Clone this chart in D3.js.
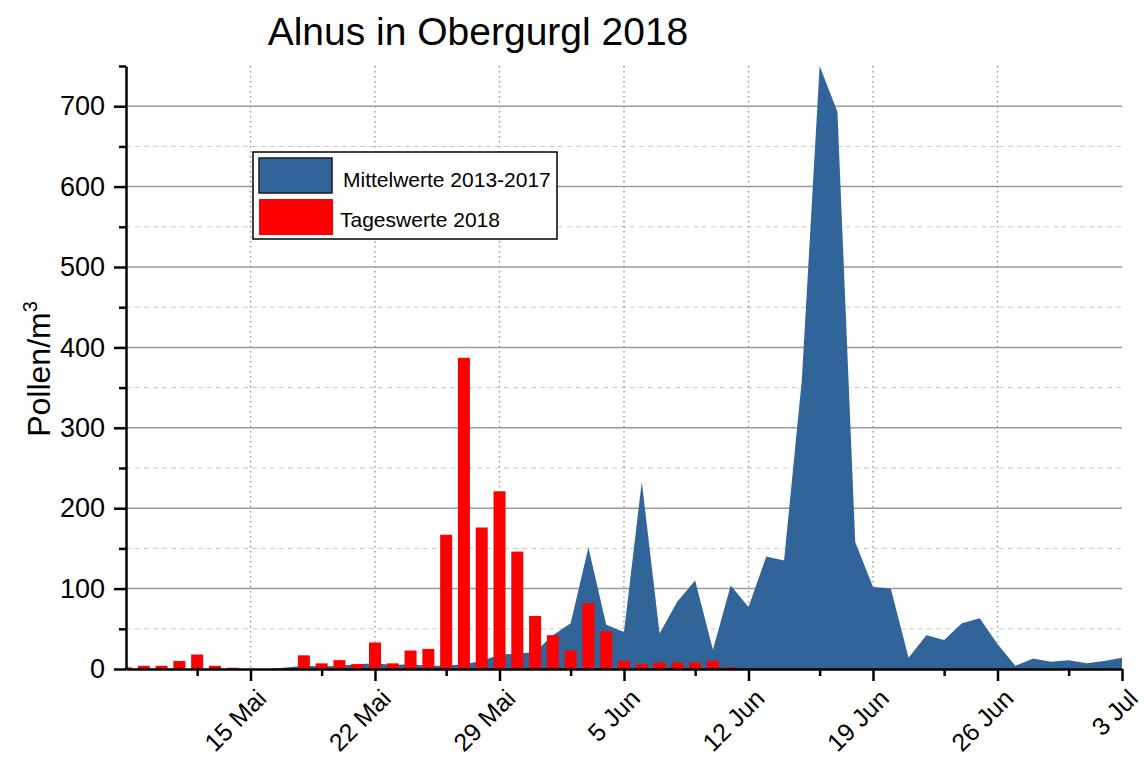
<!DOCTYPE html>
<html>
<head>
<meta charset="utf-8">
<script src="https://cdn.jsdelivr.net/npm/d3@7.9.0/dist/d3.min.js"></script>
<style>
  body { margin: 0; background: #fff; }
  svg { font-family: Arial, "Liberation Sans", sans-serif; }
</style>
</head>
<body>
<svg id="chart" width="1144" height="758"></svg>
<script>
// daily dates, 8 May - 3 Jul 2018
const days = [
  "2018-05-08","2018-05-09","2018-05-10","2018-05-11","2018-05-12","2018-05-13","2018-05-14",
  "2018-05-15","2018-05-16","2018-05-17","2018-05-18","2018-05-19","2018-05-20","2018-05-21",
  "2018-05-22","2018-05-23","2018-05-24","2018-05-25","2018-05-26","2018-05-27","2018-05-28",
  "2018-05-29","2018-05-30","2018-05-31","2018-06-01","2018-06-02","2018-06-03","2018-06-04",
  "2018-06-05","2018-06-06","2018-06-07","2018-06-08","2018-06-09","2018-06-10","2018-06-11",
  "2018-06-12","2018-06-13","2018-06-14","2018-06-15","2018-06-16","2018-06-17","2018-06-18",
  "2018-06-19","2018-06-20","2018-06-21","2018-06-22","2018-06-23","2018-06-24","2018-06-25",
  "2018-06-26","2018-06-27","2018-06-28","2018-06-29","2018-06-30","2018-07-01","2018-07-02",
  "2018-07-03"
];

// Mittelwerte 2013-2017 (area)
const meanValues = [
  0, 0, 0, 0, 0, 0, 0,
  0, 0, 2, 4, 3, 4, 6,
  7, 5, 6, 4, 4, 6, 10,
  18, 19, 21, 42, 57, 151, 55,
  46, 233, 44, 84, 110, 24, 104,
  77, 140, 135, 360, 750, 693, 158,
  102, 100, 14, 42, 36, 57, 63,
  31, 4, 13, 9, 11, 7, 10,
  14
];

// Tageswerte 2018 (bars), 8 May - 11 Jun
const dailyValues = [
  2, 4, 4, 10, 18, 4, 1.5,
  0, 0, 0, 17, 7, 11, 6,
  33, 7, 23, 25, 167, 387, 176,
  221, 146, 66, 42, 23, 82, 47,
  10, 6, 8, 8, 8, 10, 2
];

const tickDays = ["2018-05-15","2018-05-22","2018-05-29","2018-06-05","2018-06-12","2018-06-19","2018-06-26","2018-07-03"];
const tickLabels = ["15 Mai","22 Mai","29 Mai","5 Jun","12 Jun","19 Jun","26 Jun","3 Jul"];
const minorTickDays = ["2018-05-12","2018-05-19","2018-05-26","2018-06-02","2018-06-09","2018-06-16","2018-06-23","2018-06-30"];
const yMajorTicks = [0, 100, 200, 300, 400, 500, 600, 700];
const yMinorTicks = [50, 150, 250, 350, 450, 550, 650, 750];
const seriesNames = ["Mittelwerte 2013-2017", "Tageswerte 2018"];

const blue = "#31659a";
const red = "#ff0000";

const margin = { top: 66, right: 22, bottom: 89, left: 126 };
const width = 1144 - margin.left - margin.right;
const height = 758 - margin.top - margin.bottom;

const parse = d3.timeParse("%Y-%m-%d");

const svg = d3.select("#chart");
const g = svg.append("g")
  .attr("transform", `translate(${margin.left},${margin.top})`);

const x = d3.scaleTime()
  .domain([parse(days[0]), parse(days[days.length - 1])])
  .range([0, width]);
const y = d3.scaleLinear().domain([0, 750]).range([height, 0]);

const meanData = days.map((d, i) => ({ date: parse(d), value: meanValues[i] }));
const barData = dailyValues.map((v, i) => ({ date: parse(days[i]), value: v }));

svg.append("defs").append("clipPath").attr("id", "plot")
  .append("rect").attr("width", width).attr("height", height + 1);

// grid
g.append("g")
  .selectAll("line")
  .data(yMinorTicks.filter(v => v < 750))
  .join("line")
  .attr("x1", 0).attr("x2", width)
  .attr("y1", d => y(d)).attr("y2", d => y(d))
  .attr("stroke", "#c8c8c8").attr("stroke-dasharray", "5,4");

g.append("g")
  .selectAll("line")
  .data(yMajorTicks.filter(v => v > 0))
  .join("line")
  .attr("x1", 0).attr("x2", width)
  .attr("y1", d => y(d)).attr("y2", d => y(d))
  .attr("stroke", "#9a9a9a").attr("stroke-width", 1.5);

g.append("g")
  .selectAll("line")
  .data(tickDays.slice(0, -1))
  .join("line")
  .attr("x1", d => x(parse(d))).attr("x2", d => x(parse(d)))
  .attr("y1", 0).attr("y2", height)
  .attr("stroke", "#999").attr("stroke-width", 1.5).attr("stroke-dasharray", "1.5,3.5");

// area
const area = d3.area()
  .x(d => x(d.date))
  .y0(y(0))
  .y1(d => y(d.value));

g.append("path")
  .datum(meanData)
  .attr("fill", blue)
  .attr("d", area);

// bars
const barW = 12;
g.append("g")
  .attr("clip-path", "url(#plot)")
  .selectAll("rect")
  .data(barData)
  .join("rect")
  .attr("x", d => x(d.date) - barW / 2)
  .attr("y", d => y(d.value))
  .attr("width", barW)
  .attr("height", d => y(0) - y(d.value))
  .attr("fill", red);

// axes
const yAxis = g.append("g")
  .call(d3.axisLeft(y).tickValues(yMajorTicks).tickSize(12).tickSizeOuter(0).tickPadding(9));
g.append("g")
  .call(d3.axisLeft(y).tickValues(yMinorTicks).tickSize(7).tickSizeOuter(0).tickFormat(""))
  .select(".domain").remove();
yAxis.selectAll("text").attr("font-size", 27).attr("fill", "#000");

const xAxis = g.append("g")
  .attr("transform", `translate(0,${height})`)
  .call(d3.axisBottom(x)
    .tickValues(tickDays.map(parse))
    .tickFormat((d, i) => tickLabels[i])
    .tickSize(12).tickSizeOuter(0));
g.append("g")
  .attr("transform", `translate(0,${height})`)
  .call(d3.axisBottom(x).tickValues(minorTickDays.map(parse)).tickSize(7).tickFormat(""))
  .select(".domain").remove();
xAxis.selectAll("text")
  .attr("font-size", 25)
  .attr("fill", "#000")
  .attr("text-anchor", "end")
  .attr("dy", null)
  .attr("y", null)
  .attr("transform", "translate(17,31) rotate(-45)");

g.selectAll(".domain").attr("stroke-width", 2.5).attr("stroke", "#000");
g.selectAll(".tick line").attr("stroke-width", 2.5).attr("stroke", "#000");

// titles
svg.append("text")
  .attr("x", 478).attr("y", 45)
  .attr("text-anchor", "middle")
  .attr("font-size", 39)
  .text("Alnus in Obergurgl 2018");

const yt = svg.append("text")
  .attr("transform", "translate(50,369) rotate(-90)")
  .attr("text-anchor", "middle")
  .attr("font-size", 32);
yt.append("tspan").text("Pollen/m");
yt.append("tspan").attr("font-size", 20).attr("dy", -13).text("3");

// legend
const lg = svg.append("g");
lg.append("rect")
  .attr("x", 253).attr("y", 152).attr("width", 304).attr("height", 87)
  .attr("fill", "#fff").attr("stroke", "#000").attr("stroke-width", 1.5);
lg.append("rect")
  .attr("x", 259).attr("y", 158).attr("width", 73).attr("height", 35)
  .attr("fill", blue).attr("stroke", "#1a1a1a").attr("stroke-width", 1.5);
lg.append("rect")
  .attr("x", 259).attr("y", 199).attr("width", 74).attr("height", 36)
  .attr("fill", red);
lg.append("text").attr("x", 343).attr("y", 187).attr("font-size", 21).text(seriesNames[0]);
lg.append("text").attr("x", 340).attr("y", 227).attr("font-size", 21).text(seriesNames[1]);
</script>
</body>
</html>
